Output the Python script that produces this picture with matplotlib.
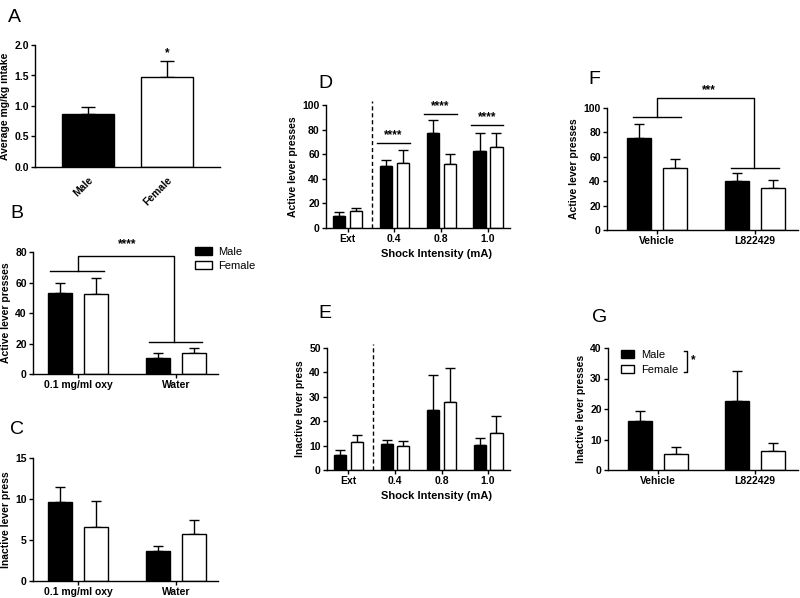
import matplotlib
matplotlib.use("Agg")
import matplotlib.pyplot as plt
import numpy as np

plt.rcParams['font.family'] = ['Liberation Sans', 'DejaVu Sans']

# ---------------- data ----------------
a_groups = ["Male", "Female"]
a_mean = [0.87, 1.48]
a_err = [0.11, 0.25]

bc_groups = ["0.1 mg/ml oxy", "Water"]
b_male = [53.0, 10.5]
b_male_err = [7.0, 3.5]
b_female = [52.5, 14.0]
b_female_err = [10.5, 3.2]
c_male = [9.6, 3.6]
c_male_err = [1.9, 0.7]
c_female = [6.6, 5.7]
c_female_err = [3.1, 1.7]

de_groups = ["Ext", "0.4", "0.8", "1.0"]
d_male = [9.5, 50.5, 77.5, 63.0]
d_male_err = [3.5, 4.5, 10.5, 14.0]
d_female = [13.5, 53.0, 52.0, 65.5]
d_female_err = [3.0, 10.5, 8.5, 11.5]
e_male = [6.0, 10.7, 24.5, 10.3]
e_male_err = [2.0, 1.8, 14.5, 2.7]
e_female = [11.5, 9.7, 28.0, 15.3]
e_female_err = [3.0, 2.1, 14.0, 6.7]

fg_groups = ["Vehicle", "L822429"]
f_male = [75.5, 40.0]
f_male_err = [11.5, 6.5]
f_female = [50.5, 34.5]
f_female_err = [8.0, 6.5]
g_male = [16.0, 22.5]
g_male_err = [3.3, 10.0]
g_female = [5.2, 6.3]
g_female_err = [2.2, 2.5]

W, H = 800, 598
fig = plt.figure(figsize=(W / 100, H / 100), dpi=100)

TICK_FS = 7.5
LAB_FS = 7.5
LET_FS = 14
STAR_FS = 8.5


def add_ax(left, top, right, bottom):
    ax = fig.add_axes([left / W, 1 - bottom / H, (right - left) / W, (bottom - top) / H])
    for s in ("top", "right"):
        ax.spines[s].set_visible(False)
    for s in ("left", "bottom"):
        ax.spines[s].set_linewidth(1.0)
    ax.tick_params(direction="out", length=3, width=1.0, labelsize=TICK_FS, pad=1.5)
    return ax


def bold_ticks(ax):
    for lab in ax.get_yticklabels() + ax.get_xticklabels():
        lab.set_fontweight("bold")
        lab.set_fontsize(TICK_FS)


def grouped(ax, groups, m, me, f, fe, off, width):
    x = np.arange(len(groups))
    ax.bar(x - off, m, width, color="black", edgecolor="black", linewidth=1.0, zorder=2)
    ax.bar(x + off, f, width, color="white", edgecolor="black", linewidth=1.0, zorder=2)
    ax.errorbar(x - off, m, yerr=[np.zeros(len(m)), me], fmt="none", ecolor="black",
                elinewidth=1.0, capsize=3.5, capthick=1.0, zorder=1)
    ax.errorbar(x + off, f, yerr=[np.zeros(len(f)), fe], fmt="none", ecolor="black",
                elinewidth=1.0, capsize=3.5, capthick=1.0, zorder=1)
    ax.set_xticks(x)
    ax.set_xticklabels(groups)
    return x


def letter(xp, yp, s):
    fig.text(xp / W, 1 - yp / H, s, fontsize=LET_FS, ha="left", va="center")


# ---------------- A ----------------
axA = add_ax(35, 45, 220, 167)
xa = np.arange(len(a_groups))
axA.bar(xa, a_mean, 0.66, color=["black", "white"], edgecolor="black", linewidth=1.0, zorder=2)
axA.errorbar(xa, a_mean, yerr=[np.zeros(2), a_err], fmt="none", ecolor="black",
             elinewidth=1.0, capsize=5, capthick=1.0, zorder=1)
axA.set_xlim(-0.68, 1.675)
axA.set_ylim(0, 2.0)
axA.set_yticks([0, 0.5, 1.0, 1.5, 2.0])
axA.set_yticklabels(["0.0", "0.5", "1.0", "1.5", "2.0"])
axA.set_xticks(xa)
axA.set_xticklabels(a_groups, rotation=45, ha="right", rotation_mode="anchor")
axA.tick_params(axis="x", length=0, pad=6)
axA.set_ylabel("Average mg/kg intake", fontsize=LAB_FS, fontweight="bold", labelpad=3)
axA.text(1, 1.76, "*", ha="center", va="bottom", fontsize=STAR_FS, fontweight="bold")
bold_ticks(axA)
letter(8, 17, "A")

# ---------------- B ----------------
axB = add_ax(33, 252, 218, 374)
xb = grouped(axB, bc_groups, b_male, b_male_err, b_female, b_female_err, 0.185, 0.245)
axB.set_xlim(-0.46, 1.43)
axB.set_ylim(0, 80)
axB.set_yticks([0, 20, 40, 60, 80])
axB.set_ylabel("Active lever presses", fontsize=LAB_FS, fontweight="bold", labelpad=3)
axB.plot([-0.29, 0.27], [67.5, 67.5], color="black", lw=1.0, clip_on=False)
axB.plot([0.73, 1.27], [21, 21], color="black", lw=1.0, clip_on=False)
axB.plot([0, 0, 0.98, 0.98], [67.5, 77.5, 77.5, 21], color="black", lw=1.0, clip_on=False)
axB.text(0.5, 81.0, "****", ha="center", va="bottom", fontsize=STAR_FS, fontweight="bold")
axB.bar([np.nan], [np.nan], color="black", edgecolor="black", label="Male")
axB.bar([np.nan], [np.nan], color="white", edgecolor="black", label="Female")
axB.legend(loc="upper left", bbox_to_anchor=(0.85, 1.08), frameon=False, fontsize=8,
           handlelength=1.6, handleheight=0.8, handletextpad=0.5, labelspacing=0.35,
           borderaxespad=0)
bold_ticks(axB)
letter(10, 214, "B")

# ---------------- C ----------------
axC = add_ax(33, 458, 218, 581)
grouped(axC, bc_groups, c_male, c_male_err, c_female, c_female_err, 0.185, 0.245)
axC.set_xlim(-0.46, 1.43)
axC.set_ylim(0, 15)
axC.set_yticks([0, 5, 10, 15])
axC.set_ylabel("Inactive lever press", fontsize=LAB_FS, fontweight="bold", labelpad=3)
bold_ticks(axC)
letter(10, 430, "C")

# ---------------- D ----------------
axD = add_ax(326, 105, 510, 228)
grouped(axD, de_groups, d_male, d_male_err, d_female, d_female_err, 0.18, 0.26)
axD.set_xlim(-0.46, 3.47)
axD.set_ylim(0, 100)
axD.set_yticks([0, 20, 40, 60, 80, 100])
axD.axvline(0.52, ymin=0, ymax=1.03, color="black", lw=1.0, ls=(0, (3, 2)), clip_on=False)
axD.set_ylabel("Active lever presses", fontsize=LAB_FS, fontweight="bold", labelpad=3)
axD.set_xlabel("Shock Intensity (mA)", fontsize=LAB_FS + 0.5, fontweight="bold", labelpad=5)
axD.xaxis.set_label_coords(0.6, -0.17)
for xc, yv in zip([1, 2, 3], [69, 92.5, 83.5]):
    axD.plot([xc - 0.37, xc + 0.33], [yv, yv], color="black", lw=1.0, clip_on=False)
    axD.text(xc - 0.02, yv + 1.5, "****", ha="center", va="bottom", fontsize=STAR_FS, fontweight="bold")
bold_ticks(axD)
letter(318, 83, "D")

# ---------------- E ----------------
axE = add_ax(327, 348, 510, 470)
grouped(axE, de_groups, e_male, e_male_err, e_female, e_female_err, 0.18, 0.26)
axE.set_xlim(-0.46, 3.47)
axE.set_ylim(0, 50)
axE.set_yticks([0, 10, 20, 30, 40, 50])
axE.axvline(0.52, ymin=0, ymax=1.03, color="black", lw=1.0, ls=(0, (3, 2)), clip_on=False)
axE.set_ylabel("Inactive lever press", fontsize=LAB_FS, fontweight="bold", labelpad=3)
axE.set_xlabel("Shock Intensity (mA)", fontsize=LAB_FS + 0.5, fontweight="bold", labelpad=5)
axE.xaxis.set_label_coords(0.6, -0.17)
bold_ticks(axE)
letter(318, 314, "E")

# ---------------- F ----------------
axF = add_ax(607, 108, 798, 230)
grouped(axF, fg_groups, f_male, f_male_err, f_female, f_female_err, 0.184, 0.245)
axF.set_xlim(-0.51, 1.44)
axF.set_ylim(0, 100)
axF.set_yticks([0, 20, 40, 60, 80, 100])
axF.set_ylabel("Active lever presses", fontsize=LAB_FS, fontweight="bold", labelpad=3)
axF.plot([-0.24, 0.25], [93, 93], color="black", lw=1.0, clip_on=False)
axF.plot([0.76, 1.25], [51, 51], color="black", lw=1.0, clip_on=False)
axF.plot([0, 0, 0.99, 0.99], [93, 108, 108, 51], color="black", lw=1.0, clip_on=False)
axF.text(0.53, 110, "***", ha="center", va="bottom", fontsize=STAR_FS, fontweight="bold")
bold_ticks(axF)
letter(588, 80, "F")

# ---------------- G ----------------
axG = add_ax(608, 348, 798, 470)
grouped(axG, fg_groups, g_male, g_male_err, g_female, g_female_err, 0.184, 0.245)
axG.set_xlim(-0.51, 1.44)
axG.set_ylim(0, 40)
axG.set_yticks([0, 10, 20, 30, 40])
axG.set_ylabel("Inactive lever presses", fontsize=LAB_FS, fontweight="bold", labelpad=3)
axG.bar([np.nan], [np.nan], color="black", edgecolor="black", label="Male")
axG.bar([np.nan], [np.nan], color="white", edgecolor="black", label="Female")
axG.legend(loc="upper left", bbox_to_anchor=(0.045, 1.02), frameon=False, fontsize=8,
           handlelength=1.2, handleheight=0.75, handletextpad=0.6, labelspacing=0.45,
           borderaxespad=0)
axG.plot([0.265, 0.30, 0.30, 0.265], [39.0, 39.0, 32.0, 32.0], color="black", lw=1.0, clip_on=False)
axG.text(0.36, 36.0, "*", ha="center", va="center", fontsize=STAR_FS, fontweight="bold")
bold_ticks(axG)
letter(592, 318, "G")

fig.savefig("out.png", dpi=100)
